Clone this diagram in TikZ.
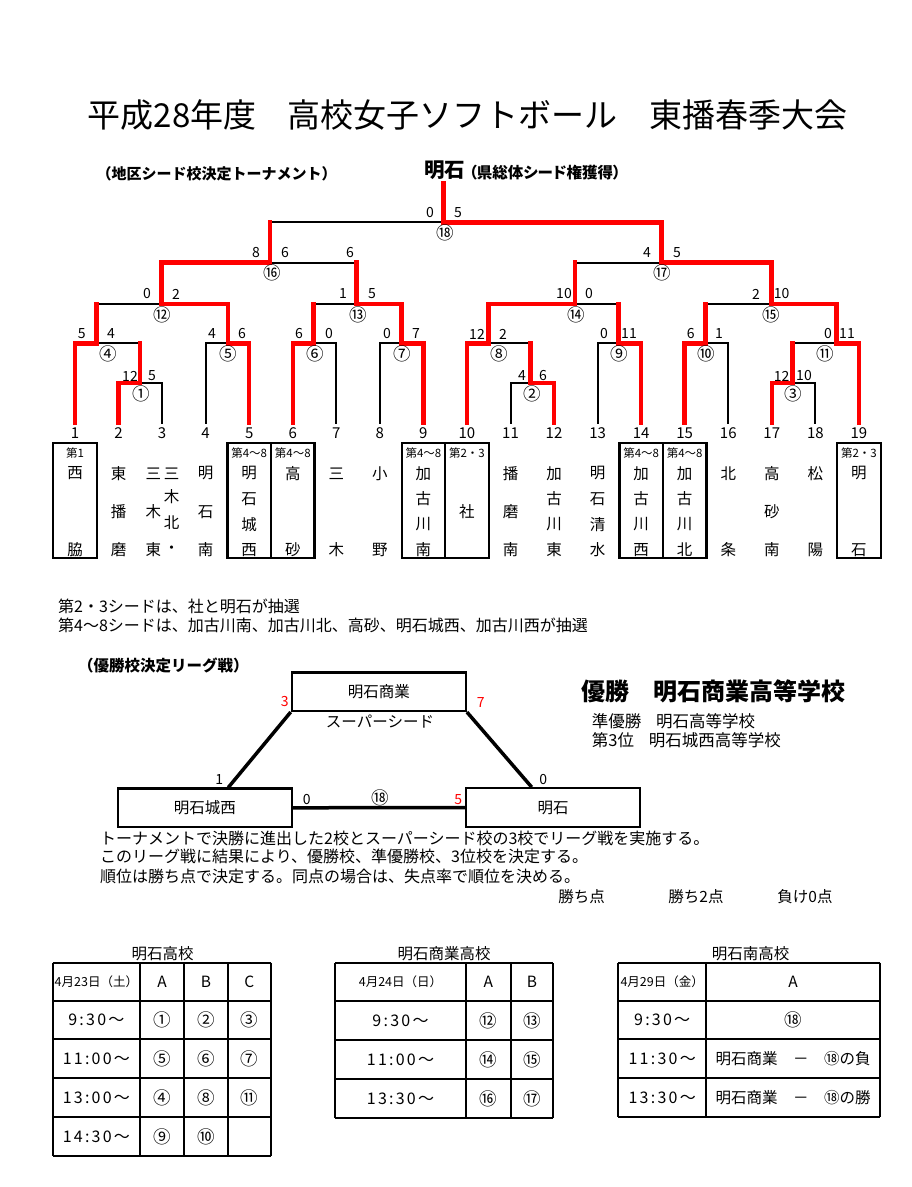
\documentclass[tikz,border=0pt]{standalone}
\usepackage{fontspec}
\setmainfont{Noto Sans CJK JP}
\newfontfamily\pfont{Noto Sans CJK JP}[RawFeature=+palt]
\newfontfamily\timefont{Noto Sans CJK JP}[LetterSpace=14]
\newcommand\cnum[1]{\char\numexpr"245F+#1\relax}
\begin{document}
\begin{tikzpicture}[x=1pt, y=-1pt,
  win/.style={red, line width=4.5pt, line cap=rect},
  lose/.style={black, line width=2pt, line cap=rect},
  num/.style={inner sep=0pt, font=\fontsize{15}{18}\selectfont},
  sc/.style={inner sep=0pt, font=\fontsize{14}{16}\selectfont},
  circ/.style={inner sep=0pt, font=\fontsize{17.5}{20}\selectfont},
  team/.style={inner sep=0pt, font=\fontsize{15.5}{18}\selectfont},
  seed/.style={inner sep=0pt, font=\fontsize{11.5}{13}\selectfont},
  teambox/.style={draw, line width=2.2pt, minimum width=43.5pt, minimum height=115.3pt, inner sep=0pt},
  school/.style={draw, line width=2.2pt, minimum width=174pt, minimum height=38.5pt, inner sep=0pt, font=\fontsize{15.5}{18}\selectfont},
  league/.style={line width=3.5pt},
  tab/.style={line width=2.2pt},
  txt/.style={inner sep=0pt, font=\fontsize{15.5}{18}\selectfont},
  body/.style={inner sep=0pt, font=\fontsize{16}{18}\selectfont},
  hdr/.style={inner sep=0pt, font=\fontsize{12.5}{14}\selectfont},
  tim/.style={inner sep=0pt, font=\timefont\fontsize{16}{18}\selectfont},
]
\useasboundingbox[fill=white] (0,0) rectangle (912,1187);

% title
\node[inner sep=0pt, font=\fontsize{33}{37}\selectfont] (title) at (467.5,115) {平成28年度\hspace{0.95em}高校女子ソフトボール\hspace{0.95em}東播春季大会};
\node[inner sep=0pt, font=\bfseries\fontsize{15}{17}\selectfont] (sub) at (216.7,174) {（地区シード校決定トーナメント）};
\node[inner sep=0pt, font=\bfseries\fontsize{20.5}{24}\selectfont] (champ) at (444.5,170) {明石};
\node[inner sep=0pt, anchor=west, font=\pfont\bfseries\fontsize{15.5}{17}\selectfont] (champnote) at (469,172.7) {（県総体シード権獲得）};

% leaves
\foreach \i in {1,...,19} {
  \coordinate (l\i) at ({75+(\i-1)*43.55},423);
  \node[num] (n\i) at ({75+(\i-1)*43.55},433) {\i};
}

% games: riser point of each game
\coordinate (m1) at (140,383);
\coordinate (m2) at (530.7,383);
\coordinate (m3) at (792.3,383);
\coordinate (m4) at (96.7,343.3);
\coordinate (m5) at (228,343.3);
\coordinate (m6) at (313.3,343.3);
\coordinate (m7) at (401.7,343.3);
\coordinate (m8) at (488.3,343.3);
\coordinate (m9) at (618.3,343.3);
\coordinate (m10) at (705.7,343.3);
\coordinate (m11) at (836.7,343.3);
\coordinate (m12) at (161.7,304);
\coordinate (m13) at (356.7,304);
\coordinate (m14) at (575,304);
\coordinate (m15) at (771.7,304);
\coordinate (m16) at (270,262.7);
\coordinate (m17) at (661.7,262.7);
\coordinate (m18) at (443.3,222.3);
\coordinate (top) at (443.3,183);

% game/left/right/winner/next
\def\games{1/l2/l3/l2/m4, 2/l11/l12/l12/m8, 3/l17/l18/l17/m11,
  4/l1/m1/l1/m12, 5/l4/l5/l5/m12, 6/l6/l7/l6/m13, 7/l8/l9/l9/m13,
  8/l10/m2/l10/m14, 9/l13/l14/l14/m14, 10/l15/l16/l15/m15, 11/m3/l19/l19/m15,
  12/m4/m5/m5/m16, 13/m6/m7/m7/m16, 14/m8/m9/m8/m17, 15/m10/m11/m11/m17,
  16/m12/m13/m12/m18, 17/m14/m15/m15/m18, 18/m16/m17/m17/top}
\foreach \m/\a/\b/\w/\p in \games
  \draw[lose] (\a |- m\m) -- (\b |- m\m);
\foreach \i/\m in {3/1, 4/5, 7/6, 8/7, 11/2, 13/9, 16/10, 18/3}
  \draw[lose] (l\i) -- (l\i |- m\m);
\foreach \m/\a/\b/\w/\p in \games
  \draw[win] (\w) |- (m\m) -- (m\m |- \p);

% game numbers
\foreach \m/\x/\y in {1/141/394, 2/532/394, 3/793/394, 4/108/354, 5/228/354,
  6/315/354, 7/402/354, 8/499/354, 9/619/354, 10/706.7/354, 11/825.7/354,
  12/162/314.5, 13/358/314.5, 14/576/314.5, 15/771.7/314.5,
  16/272/273, 17/662.7/273, 18/445/232.5}
  \node[circ] (c\m) at (\x,\y) {\cnum{\m}};

% scores
\foreach \x/\y/\s [count=\k] in {130/376/12, 152/376/5, 522/376/4, 543/376/6,
  781.7/376/12, 804/376/10, 81.7/334/5, 111/334/4, 212/334/4, 242/334/6,
  299/334/6, 329/334/0, 387/334/0, 416/334/7, 477/334/12, 503/334/2,
  604/334/0, 629/334/11, 690.7/334/6, 719/334/1, 828/334/0, 847/334/11,
  147/294/0, 176/294/2, 343/294/1, 372/294/5, 564/294/10, 589/294/0,
  756/294/2, 781.7/294/10, 256/253/8, 285/253/6, 350/253/6,
  647/253/4, 677/253/5, 430/213/0, 458/213/5}
  \node[sc] (sc\k) at (\x,\y) {\s};

% seeded teams
\foreach \i/\s in {1/第1, 5/第4～8, 6/第4～8, 9/第4～8, 10/第2・3, 14/第4～8, 15/第4～8, 19/第2・3} {
  \node[teambox] (b\i) at (l\i |- 0,500.3) {};
  \node[seed] (sd\i) at (l\i |- 0,452.7) {\s};
}

% team names
\foreach \i/\a/\b/\c/\d in {5/明/石/城/西, 9/加/古/川/南, 12/加/古/川/東,
  13/明/石/清/水, 14/加/古/川/西, 15/加/古/川/北} {
  \node[team] (t\i-1) at (l\i |- 0,473.3) {\a};
  \node[team] (t\i-2) at (l\i |- 0,499) {\b};
  \node[team] (t\i-3) at (l\i |- 0,524.3) {\c};
  \node[team] (t\i-4) at (l\i |- 0,550) {\d};
}
\foreach \i/\a/\b/\c in {2/東/播/磨, 4/明/石/南, 11/播/磨/南, 17/高/砂/南} {
  \node[team] (t\i-1) at (l\i |- 0,473.3) {\a};
  \node[team] (t\i-2) at (l\i |- 0,511.7) {\b};
  \node[team] (t\i-3) at (l\i |- 0,550) {\c};
}
\foreach \i/\a/\b in {1/西/脇, 6/高/砂, 7/三/木, 8/小/野, 16/北/条, 18/松/陽, 19/明/石} {
  \node[team] (t\i-1) at (l\i |- 0,473.3) {\a};
  \node[team] (t\i-2) at (l\i |- 0,550) {\b};
}
\node[team] (t10-1) at (l10 |- 0,511.7) {社};
\node[team] (t3-1) at (153.3,473.3) {三};
\node[team] (t3-2) at (153.3,511.7) {木};
\node[team] (t3-3) at (153.3,550) {東};
\node[team] (t3-4) at (171.7,473.3) {三};
\node[team] (t3-5) at (171.7,497) {木};
\node[team] (t3-6) at (171.7,523) {北};
\node[team] (t3-7) at (171.7,550) {・};

% notes
\node[body, anchor=west] (note1) at (58,606.7) {第2・3シードは、社と明石が抽選};
\node[body, anchor=west] (note2) at (58,625.7) {第4～8シードは、加古川南、加古川北、高砂、明石城西、加古川西が抽選};

% league
\node[inner sep=0pt, font=\bfseries\fontsize{15.5}{17}\selectfont] (lgtitle) at (163.3,665) {（優勝校決定リーグ戦）};
\node[school] (shogyo) at (378.8,691.7) {明石商業};
\node[school] (jonishi) at (204.8,807.8) {明石城西};
\node[school] (akashi) at (553,807.5) {明石};
\node[txt] (super) at (380,721.7) {スーパーシード};
\draw[league] (shogyo.south west) -- ([xshift=23.5pt]jonishi.north);
\draw[league] (shogyo.south east) -- ([xshift=-21.3pt]akashi.north);
\draw[league] (jonishi.east) -- (akashi.west);
\node[sc, red] (ls1) at (284.7,701.7) {3};
\node[sc, red] (ls2) at (480.7,702.3) {7};
\node[sc] (ls3) at (219.3,779.3) {1};
\node[sc] (ls4) at (543.3,779.3) {0};
\node[sc] (ls5) at (306.7,799.3) {0};
\node[circ] (ls6) at (380,798.3) {\cnum{18}};
\node[sc, red] (ls7) at (458.3,799.3) {5};

% result
\node[inner sep=0pt, anchor=west, font=\bfseries\fontsize{24}{27}\selectfont] (first) at (581.7,691.7) {優勝\hspace{1em}明石商業高等学校};
\node[inner sep=0pt, anchor=west, font=\fontsize{16.5}{19}\selectfont] (second) at (591.7,721) {準優勝\hspace{0.9em}明石高等学校};
\node[inner sep=0pt, anchor=west, font=\fontsize{16.5}{19}\selectfont] (third) at (591.7,740) {第3位\hspace{0.9em}明石城西高等学校};

% rules
\node[body, anchor=west] (rule1) at (100,838.3) {トーナメントで決勝に進出した2校とスーパーシード校の3校でリーグ戦を実施する。};
\node[body, anchor=west] (rule2) at (100,856.7) {このリーグ戦に結果により、優勝校、準優勝校、3位校を決定する。};
\node[body, anchor=west] (rule3) at (100,876.7) {順位は勝ち点で決定する。同点の場合は、失点率で順位を決める。};
\node[txt] (pt1) at (581.7,896.7) {勝ち点};
\node[txt] (pt2) at (696,896.7) {勝ち2点};
\node[txt] (pt3) at (805,896.7) {負け0点};

% table 1
\node[txt] (h1) at (162.7,953.3) {明石高校};
\foreach \y in {962.7,1001,1039.3,1078.3,1116.7,1156}
  \draw[tab] (52.7,\y) -- (271,\y);
\foreach \x in {52.7,140,184.3,227.7,271}
  \draw[tab] (\x,962.7) -- (\x,1156);
\node[hdr] (a0) at (96.4,981.9) {4月23日（土）};
\node[txt] (a1) at (162.2,981.9) {A};
\node[txt] (a2) at (206,981.9) {B};
\node[txt] (a3) at (249.4,981.9) {C};
\foreach \t/\p/\q/\r/\y in {9:30～/1/2/3/1020.2, 11:00～/5/6/7/1058.8, 13:00～/4/8/11/1097.5} {
  \node[tim] (at\p) at (96.4,\y) {\t};
  \node[circ] (ap\p) at (162.2,\y) {\cnum{\p}};
  \node[circ] (aq\p) at (206,\y) {\cnum{\q}};
  \node[circ] (ar\p) at (249.4,\y) {\cnum{\r}};
}
\node[tim] (at9) at (96.4,1136.4) {14:30～};
\node[circ] (ap9) at (162.2,1136.4) {\cnum{9}};
\node[circ] (aq9) at (206,1136.4) {\cnum{10}};

% table 2
\node[txt] (h2) at (444,953.3) {明石商業高校};
\foreach \y in {963,1001,1040,1079,1118}
  \draw[tab] (335,\y) -- (553,\y);
\foreach \x in {335,466,510.7,553}
  \draw[tab] (\x,963) -- (\x,1118);
\node[hdr] (b0) at (400.5,982) {4月24日（日）};
\node[txt] (bA) at (488.4,982) {A};
\node[txt] (bB) at (531.9,982) {B};
\foreach \t/\p/\q/\y in {9:30～/12/13/1020.5, 11:00～/14/15/1059.5, 13:30～/16/17/1098.5} {
  \node[tim] (bt\p) at (400.5,\y) {\t};
  \node[circ] (bp\p) at (488.4,\y) {\cnum{\p}};
  \node[circ] (bq\p) at (531.9,\y) {\cnum{\q}};
}

% table 3
\node[txt] (h3) at (750.7,953.3) {明石南高校};
\foreach \y in {962.7,1001,1039.3,1078.3,1116.7}
  \draw[tab] (618.3,\y) -- (880,\y);
\foreach \x in {618.3,706,880}
  \draw[tab] (\x,962.7) -- (\x,1116.7);
\node[hdr] (c0) at (662.2,981.9) {4月29日（金）};
\node[txt] (cA) at (793,981.9) {A};
\node[tim] (ct1) at (662.2,1020.2) {9:30～};
\node[circ] (cp1) at (793,1020.2) {\cnum{18}};
\node[tim] (ct2) at (662.2,1058.8) {11:30～};
\node[txt] (cp2) at (793,1058.8) {明石商業　－　\cnum{18}の負};
\node[tim] (ct3) at (662.2,1097.5) {13:30～};
\node[txt] (cp3) at (793,1097.5) {明石商業　－　\cnum{18}の勝};
\end{tikzpicture}
\end{document}
